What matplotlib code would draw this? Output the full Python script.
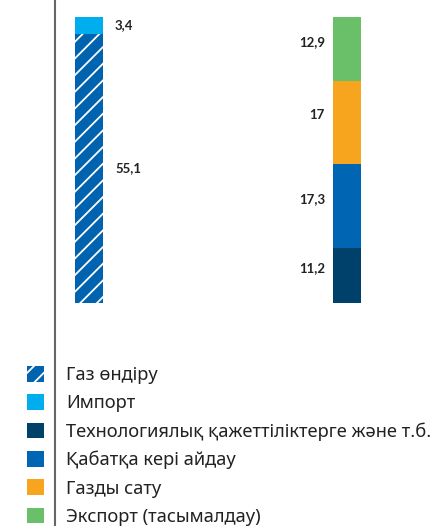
import matplotlib.pyplot as plt
from matplotlib.patches import Patch
from matplotlib.lines import Line2D

plt.rcParams['font.family'] = ['Noto Sans', 'DejaVu Sans']
plt.rcParams['hatch.color'] = 'white'
plt.rcParams['hatch.linewidth'] = 1.3

# Баланс газа: левая колонка - ресурсы, правая - распределение
left_labels = ['Газ өндіру', 'Импорт']
left_values = [55.1, 3.4]
left_colors = ['#0063B0', '#00AEEF']
left_hatch = ['//', None]

right_labels = ['Технологиялық қажеттіліктерге және т.б.', 'Қабатқа кері айдау',
                'Газды сату', 'Экспорт (тасымалдау)']
right_values = [11.2, 17.3, 17, 12.9]
right_colors = ['#00416B', '#0066B3', '#F7A51E', '#6ABF69']

fmt = lambda v: ('%g' % v).replace('.', ',')
num_font = dict(fontsize=9.5, fontweight='bold', color='#222222', family=['Lato', 'DejaVu Sans'])

fig = plt.figure(figsize=(4.4, 5.26), dpi=100)
ax = fig.add_axes([0, (526 - 303) / 526, 1, 286 / 526])
W = 28 / 258

bottom = 0
for v, c, h in zip(left_values, left_colors, left_hatch):
    ax.bar(0, v, width=W, bottom=bottom, color=c, hatch=h, linewidth=0)
    ax.text(W / 2 + 12 / 258, bottom + v / 2, fmt(v), ha='left', va='center', **num_font)
    bottom += v

bottom = 0
for v, c in zip(right_values, right_colors):
    ax.bar(1, v, width=W, bottom=bottom, color=c, linewidth=0)
    ax.text(1 - W / 2 - 8 / 258, bottom + v / 2 + 1.5, fmt(v), ha='right', va='center', **num_font)
    bottom += v

ax.set_xlim(-89 / 258, 351 / 258)
ax.set_ylim(0, 58.5)
ax.axis('off')

# вертикальная разделительная линия
fig.add_artist(Line2D([55 / 440, 55 / 440], [0, 1], color='#666666', lw=1.5))

handles = [Patch(facecolor=c, hatch=h, linewidth=0) for c, h in zip(left_colors, left_hatch)]
handles += [Patch(facecolor=c, linewidth=0) for c in right_colors]
fig.legend(handles, left_labels + right_labels, loc='upper left',
           bbox_to_anchor=(27 / 440, 1 - 366 / 526), frameon=False,
           fontsize=13.2, handlelength=0.93, handleheight=0.93,
           handletextpad=1.2, labelspacing=0.55, borderaxespad=0, borderpad=0,
           labelcolor='#222222')

plt.savefig('out.png', dpi=100)
